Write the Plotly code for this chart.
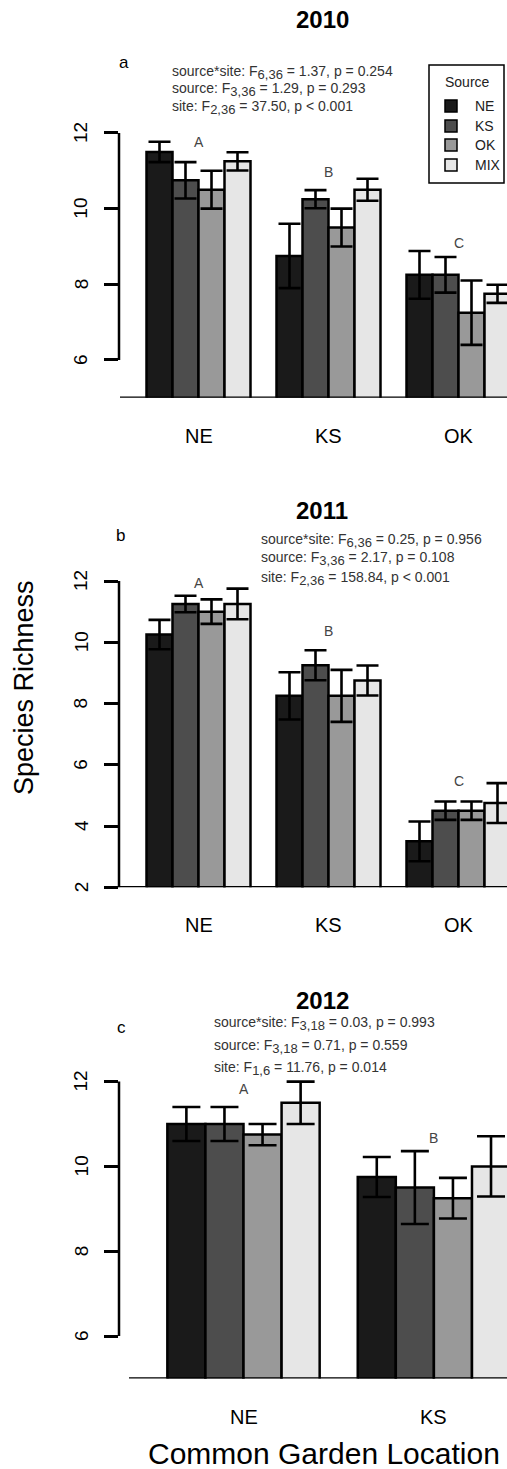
import plotly.graph_objects as go

# ---------------- data ----------------
sources = ["NE", "KS", "OK", "MIX"]
source_colors = ["#1a1a1a", "#4d4d4d", "#999999", "#e6e6e6"]

sites_2010 = ["NE", "KS", "OK"]
ne_2010 = [11.5, 8.75, 8.25]
ks_2010 = [10.75, 10.25, 8.25]
ok_2010 = [10.5, 9.5, 7.25]
mix_2010 = [11.25, 10.5, 7.75]
ne_2010_se = [0.27, 0.85, 0.63]
ks_2010_se = [0.48, 0.24, 0.47]
ok_2010_se = [0.5, 0.5, 0.85]
mix_2010_se = [0.24, 0.29, 0.24]
letters_2010 = ["A", "B", "C"]
letters_2010_y = [11.76, 10.96, 9.09]

sites_2011 = ["NE", "KS", "OK"]
ne_2011 = [10.25, 8.25, 3.5]
ks_2011 = [11.25, 9.25, 4.5]
ok_2011 = [11.0, 8.25, 4.5]
mix_2011 = [11.25, 8.75, 4.75]
ne_2011_se = [0.48, 0.77, 0.65]
ks_2011_se = [0.27, 0.49, 0.3]
ok_2011_se = [0.4, 0.85, 0.3]
mix_2011_se = [0.5, 0.49, 0.65]
letters_2011 = ["A", "B", "C"]
letters_2011_y = [11.95, 10.38, 5.48]

sites_2012 = ["NE", "KS"]
ne_2012 = [11.0, 9.75]
ks_2012 = [11.0, 9.5]
ok_2012 = [10.75, 9.25]
mix_2012 = [11.5, 10.0]
ne_2012_se = [0.4, 0.47]
ks_2012_se = [0.4, 0.86]
ok_2012_se = [0.25, 0.48]
mix_2012_se = [0.5, 0.71]
letters_2012 = ["A", "B"]
letters_2012_y = [11.82, 10.67]

SUB = '<sub><span style="font-size:13px">{}</span></sub>'
stats_2010 = [
    "source*site: F" + SUB.format("6,36") + " = 1.37, p = 0.254",
    "source: F" + SUB.format("3,36") + " = 1.29, p = 0.293",
    "site: F" + SUB.format("2,36") + " = 37.50, p < 0.001",
]
stats_2011 = [
    "source*site: F" + SUB.format("6,36") + " = 0.25, p = 0.956",
    "source: F" + SUB.format("3,36") + " = 2.17, p = 0.108",
    "site: F" + SUB.format("2,36") + " = 158.84, p < 0.001",
]
stats_2012 = [
    "source*site: F" + SUB.format("3,18") + " = 0.03, p = 0.993",
    "source: F" + SUB.format("3,18") + " = 0.71, p = 0.559",
    "site: F" + SUB.format("1,6") + " = 11.76, p = 0.014",
]
yticks_2010 = [6, 8, 10, 12]
yticks_2011 = [2, 4, 6, 8, 10, 12]
yticks_2012 = [6, 8, 10, 12]

# ---------------- layout geometry (pixels) ----------------
W, H = 507, 1469
FONT = "Liberation Sans, Arial, sans-serif"
PLOT_LEFT = 119


def px(x):
    return x / W


def py(y):
    return 1 - y / H


panels = [
    dict(year="2010", tag="a", sites=sites_2010,
         means=[ne_2010, ks_2010, ok_2010, mix_2010],
         ses=[ne_2010_se, ks_2010_se, ok_2010_se, mix_2010_se],
         letters=letters_2010, letters_y=letters_2010_y, stats=stats_2010,
         yticks=yticks_2010, ybot=5, ytop=14, bot_px=397.8, ppu=37.83,
         c0=198.5, unit=130, cap=11, base_start=120,
         title_y=20, tag_xy=(124, 62), stats_x=170, stats_y=[73, 90, 107],
         cat_y=435.5),
    dict(year="2011", tag="b", sites=sites_2011,
         means=[ne_2011, ks_2011, ok_2011, mix_2011],
         ses=[ne_2011_se, ks_2011_se, ok_2011_se, mix_2011_se],
         letters=letters_2011, letters_y=letters_2011_y, stats=stats_2011,
         yticks=yticks_2011, ybot=2, ytop=13, bot_px=887.3, ppu=30.63,
         c0=198.5, unit=130, cap=11, base_start=118,
         title_y=510, tag_xy=(120, 535), stats_x=259, stats_y=[540, 559, 578],
         cat_y=925),
    dict(year="2012", tag="c", sites=sites_2012,
         means=[ne_2012, ks_2012, ok_2012, mix_2012],
         ses=[ne_2012_se, ks_2012_se, ok_2012_se, mix_2012_se],
         letters=letters_2012, letters_y=letters_2012_y, stats=stats_2012,
         yticks=yticks_2012, ybot=5, ytop=13, bot_px=1378.4, ppu=42.4,
         c0=243.5, unit=190.4, cap=14, base_start=129,
         title_y=1000, tag_xy=(121, 1027), stats_x=212, stats_y=[1023, 1046, 1068],
         cat_y=1417),
]

fig = go.Figure()
shapes = []
annotations = []
layout_axes = {}

for i, p in enumerate(panels, start=1):
    xa = "x" if i == 1 else f"x{i}"
    ya = "y" if i == 1 else f"y{i}"
    xkey = "xaxis" if i == 1 else f"xaxis{i}"
    ykey = "yaxis" if i == 1 else f"yaxis{i}"
    xpos = list(range(len(p["sites"])))
    for s, col, m, e in zip(sources, source_colors, p["means"], p["ses"]):
        fig.add_trace(go.Bar(
            x=xpos, y=m, name=s, xaxis=xa, yaxis=ya, showlegend=False,
            marker=dict(color=col, line=dict(color="black", width=2.5)),
            error_y=dict(type="data", array=e, color="black",
                         thickness=2.6, width=p["cap"]),
        ))
    xl = (PLOT_LEFT - p["c0"]) / p["unit"]
    xr = (W - p["c0"]) / p["unit"]
    top_px = p["bot_px"] - (p["ytop"] - p["ybot"]) * p["ppu"]
    layout_axes[xkey] = dict(domain=[px(PLOT_LEFT), 1], range=[xl, xr],
                             showticklabels=False, showgrid=False,
                             zeroline=False, showline=False, ticks="",
                             anchor=ya, fixedrange=True)
    layout_axes[ykey] = dict(domain=[py(p["bot_px"]), py(top_px)],
                             range=[p["ybot"], p["ytop"]],
                             tickvals=p["yticks"], ticks="outside",
                             ticklen=14, tickwidth=2.5, tickcolor="black",
                             showticklabels=False, showgrid=False,
                             zeroline=False, showline=False, anchor=xa,
                             fixedrange=True)
    # y axis line spanning ticks
    shapes.append(dict(type="line", xref="paper", yref=ya,
                       x0=px(PLOT_LEFT), x1=px(PLOT_LEFT),
                       y0=min(p["yticks"]), y1=max(p["yticks"]),
                       line=dict(color="black", width=2.5)))
    # baseline
    shapes.append(dict(type="line", xref="paper", yref=ya,
                       x0=px(p["base_start"]), x1=1.02,
                       y0=p["ybot"], y1=p["ybot"],
                       line=dict(color="black", width=2.5)))
    # y tick labels
    for t in p["yticks"]:
        annotations.append(dict(xref="paper", yref=ya, x=px(81), y=t,
                                text=str(t), showarrow=False, textangle=-90,
                                font=dict(family=FONT, size=19, color="black"),
                                xanchor="center", yanchor="middle"))
    # category labels
    for k, s in enumerate(p["sites"]):
        annotations.append(dict(xref=xa, yref="paper", x=k, y=py(p["cat_y"]),
                                text=s, showarrow=False,
                                font=dict(family=FONT, size=20, color="black"),
                                xanchor="center", yanchor="middle"))
    # significance letters
    for k, (lt, ly) in enumerate(zip(p["letters"], p["letters_y"])):
        annotations.append(dict(xref=xa, yref=ya, x=k, y=ly, text=lt,
                                showarrow=False,
                                font=dict(family=FONT, size=14, color="#444"),
                                xanchor="center", yanchor="middle"))
    # title
    annotations.append(dict(xref="paper", yref="paper", x=px(322), y=py(p["title_y"]),
                            text=f"<b>{p['year']}</b>", showarrow=False,
                            font=dict(family=FONT, size=24, color="black"),
                            xanchor="center", yanchor="middle"))
    # panel tag
    annotations.append(dict(xref="paper", yref="paper", x=px(p["tag_xy"][0]),
                            y=py(p["tag_xy"][1]), text=p["tag"], showarrow=False,
                            font=dict(family=FONT, size=17, color="black"),
                            xanchor="center", yanchor="middle"))
    # stats text
    for line, sy in zip(p["stats"], p["stats_y"]):
        annotations.append(dict(xref="paper", yref="paper", x=px(p["stats_x"]),
                                y=py(sy), text=line, showarrow=False,
                                font=dict(family=FONT, size=14, color="#333"),
                                xanchor="left", yanchor="middle"))

# legend (panel a)
shapes.append(dict(type="rect", xref="paper", yref="paper",
                   x0=px(429), x1=px(504), y0=py(65), y1=py(183),
                   line=dict(color="black", width=1.5), fillcolor="white"))
annotations.append(dict(xref="paper", yref="paper", x=px(467), y=py(82),
                        text="Source", showarrow=False,
                        font=dict(family=FONT, size=14, color="#222"),
                        xanchor="center", yanchor="middle"))
legend_y = [106, 126, 145, 165]
for s, col, ly in zip(sources, source_colors, legend_y):
    shapes.append(dict(type="rect", xref="paper", yref="paper",
                       x0=px(445), x1=px(457), y0=py(ly + 6), y1=py(ly - 6),
                       line=dict(color="black", width=1.5), fillcolor=col))
    annotations.append(dict(xref="paper", yref="paper", x=px(473), y=py(ly),
                            text=s, showarrow=False,
                            font=dict(family=FONT, size=14, color="#222"),
                            xanchor="left", yanchor="middle"))

# shared axis titles
annotations.append(dict(xref="paper", yref="paper", x=px(24), y=py(688),
                        text="Species Richness", showarrow=False, textangle=-90,
                        font=dict(family=FONT, size=27, color="black"),
                        xanchor="center", yanchor="middle"))
annotations.append(dict(xref="paper", yref="paper", x=px(146), y=py(1453),
                        text="Common Garden Location", showarrow=False,
                        font=dict(family=FONT, size=30, color="black"),
                        xanchor="left", yanchor="middle"))

fig.update_layout(
    width=W, height=H, margin=dict(l=0, r=0, t=0, b=0),
    paper_bgcolor="white", plot_bgcolor="white",
    barmode="group", bargap=0.2, bargroupgap=0,
    showlegend=False, shapes=shapes, annotations=annotations,
    **layout_axes,
)

fig.write_html("out.html", config={"displayModeBar": False})
